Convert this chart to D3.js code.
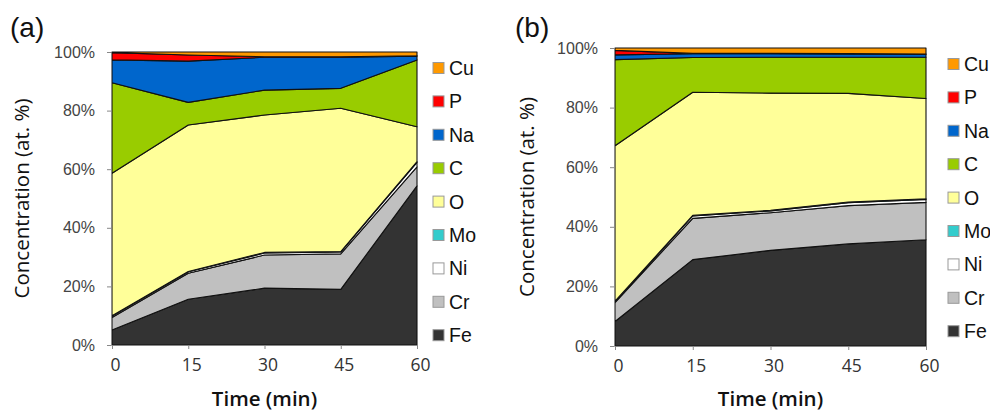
<!DOCTYPE html>
<html>
<head>
<meta charset="utf-8">
<script src="https://cdn.jsdelivr.net/npm/d3@7"></script>
<style>
  body { margin: 0; background: #fff; }
  svg { display: block; }
</style>
</head>
<body>
<div id="chart"></div>
<script>
(function() {
  var width = 990,
    height = 413;

  // time points (min)
  var times = [0, 15, 30, 45, 60];

  // elements, bottom of the stack first
  var elements = ["Fe", "Cr", "Ni", "Mo", "O", "C", "Na", "P", "Cu"];
  var colors = ["#333333", "#c0c0c0", "#ffffff", "#33cccc", "#ffff99", "#99cc00", "#0066cc", "#ff0000", "#ff9900"];

  // at. %, one row per element (same order as elements)
  var valuesA = [
    [5.1, 15.6, 19.4, 19.0, 54.3],   // Fe
    [4.3, 8.9, 11.3, 12.1, 6.5],     // Cr
    [0.5, 0.5, 0.7, 0.7, 1.5],       // Ni
    [0.1, 0.1, 0.2, 0.1, 0.3],       // Mo
    [48.6, 50.0, 46.9, 48.9, 11.9],  // O
    [30.9, 7.7, 8.5, 6.8, 22.8],     // C
    [7.8, 14.1, 11.2, 10.6, 1.3],    // Na
    [2.5, 2.1, 0.2, 0.2, 0.1],       // P
    [0.2, 1.0, 1.6, 1.6, 1.3]        // Cu
  ];

  var valuesB = [
    [8.2, 28.9, 32.0, 34.2, 35.6],   // Fe
    [6.3, 13.8, 12.6, 12.8, 12.5],   // Cr
    [0.4, 0.8, 0.6, 1.0, 1.0],       // Ni
    [0.1, 0.2, 0.2, 0.2, 0.2],       // Mo
    [52.0, 41.2, 39.2, 36.4, 33.6],  // O
    [28.8, 11.6, 12.0, 12.1, 13.8],  // C
    [1.6, 1.3, 1.2, 1.1, 1.0],       // Na
    [1.5, 0.1, 0.1, 0.1, 0.1],       // P
    [0.8, 1.8, 1.8, 1.9, 2.0]        // Cu
  ];

  var yTicks = [0, 0.2, 0.4, 0.6, 0.8, 1];

  var svg = d3.select("#chart")
    .append("svg")
    .attr("width", width)
    .attr("height", height);

  var panels = [
    { label: "(a)", values: valuesA, labelX: 10, x0: 112, x1: 417, top: 52, bottom: 345, titleX: 22, legendX: 433 },
    { label: "(b)", values: valuesB, labelX: 515, x0: 615, x1: 926, top: 48, bottom: 346, titleX: 527, legendX: 948 }
  ];

  panels.forEach(drawPanel);

  function drawPanel(p) {
    var g = svg.append("g");

    var x = d3.scaleLinear().domain([0, 60]).range([p.x0, p.x1]);
    var y = d3.scaleLinear().domain([0, 1]).range([p.bottom, p.top]);

    // one row per time point for d3.stack
    var rows = times.map(function(t, i) {
      var r = { time: t };
      elements.forEach(function(el, k) { r[el] = p.values[k][i]; });
      return r;
    });

    var stack = d3.stack()
      .keys(elements)
      .offset(d3.stackOffsetExpand);

    var series = stack(rows);

    var area = d3.area()
      .x(function(d) { return x(d.data.time); })
      .y0(function(d) { return y(d[0]); })
      .y1(function(d) { return y(d[1]); });

    g.selectAll(".layer")
      .data(series)
      .enter().append("path")
      .attr("class", "layer")
      .attr("d", area)
      .attr("fill", function(d, i) { return colors[i]; })
      .attr("stroke", "#111")
      .attr("stroke-width", 1.1)
      .attr("stroke-linejoin", "round");

    // axes
    var yAxis = d3.axisLeft(y)
      .tickValues(yTicks)
      .tickFormat(d3.format(".0%"))
      .tickSizeInner(4)
      .tickSizeOuter(0)
      .tickPadding(12);

    var yg = g.append("g")
      .attr("transform", "translate(" + (p.x0 - 1) + ",0)")
      .call(yAxis);
    yg.select(".domain").attr("stroke", "#888");
    yg.selectAll(".tick line").attr("stroke", "#888");
    yg.selectAll("text")
      .attr("font-family", "Liberation Sans, Arial, sans-serif")
      .attr("font-size", 16)
      .attr("fill", "#444");

    var xAxis = d3.axisBottom(x)
      .tickValues(times)
      .tickSizeInner(4)
      .tickSizeOuter(0)
      .tickPadding(10);

    var xg = g.append("g")
      .attr("transform", "translate(0," + p.bottom + ")")
      .call(xAxis);
    xg.select(".domain").attr("stroke", "#888");
    xg.selectAll(".tick line").attr("stroke", "#888");
    xg.selectAll("text")
      .attr("dx", 3)
      .attr("font-family", "Open Sans, sans-serif")
      .attr("font-size", 17.5)
      .attr("fill", "#333");

    // titles
    g.append("text")
      .attr("x", (p.x0 + p.x1) / 2)
      .attr("y", 406)
      .attr("text-anchor", "middle")
      .attr("font-family", "Open Sans, sans-serif")
      .attr("font-weight", 600)
      .attr("font-size", 20.5)
      .attr("fill", "#111")
      .text("Time (min)");

    g.append("text")
      .attr("transform", "translate(" + (p.titleX + 7) + "," + ((p.top + p.bottom) / 2) + ") rotate(-90)")
      .attr("text-anchor", "middle")
      .attr("font-family", "Open Sans, sans-serif")
      .attr("font-size", 20.5)
      .attr("fill", "#111")
      .text("Concentration (at. %)");

    g.append("text")
      .attr("x", p.labelX)
      .attr("y", 37)
      .attr("font-family", "Liberation Sans, Arial, sans-serif")
      .attr("font-size", 28)
      .attr("fill", "#111")
      .text(p.label);

    // legend, top entry is Cu
    var legendItems = elements.slice().reverse();
    var legend = g.selectAll(".legend")
      .data(legendItems)
      .enter().append("g")
      .attr("class", "legend")
      .attr("transform", function(d, i) {
        return "translate(" + p.legendX + "," + (p.top + 16 + i * 33.4) + ")";
      });

    legend.append("rect")
      .attr("x", 0)
      .attr("y", -5.5)
      .attr("width", 11)
      .attr("height", 11)
      .attr("fill", function(d) { return colors[elements.indexOf(d)]; })
      .attr("stroke", "#999")
      .attr("stroke-width", 1);

    legend.append("text")
      .attr("x", 16)
      .attr("y", 7)
      .attr("font-family", "Liberation Sans, Arial, sans-serif")
      .attr("font-size", 19.5)
      .attr("fill", "#111")
      .text(function(d) { return d; });
  }
})();
</script>
</body>
</html>
